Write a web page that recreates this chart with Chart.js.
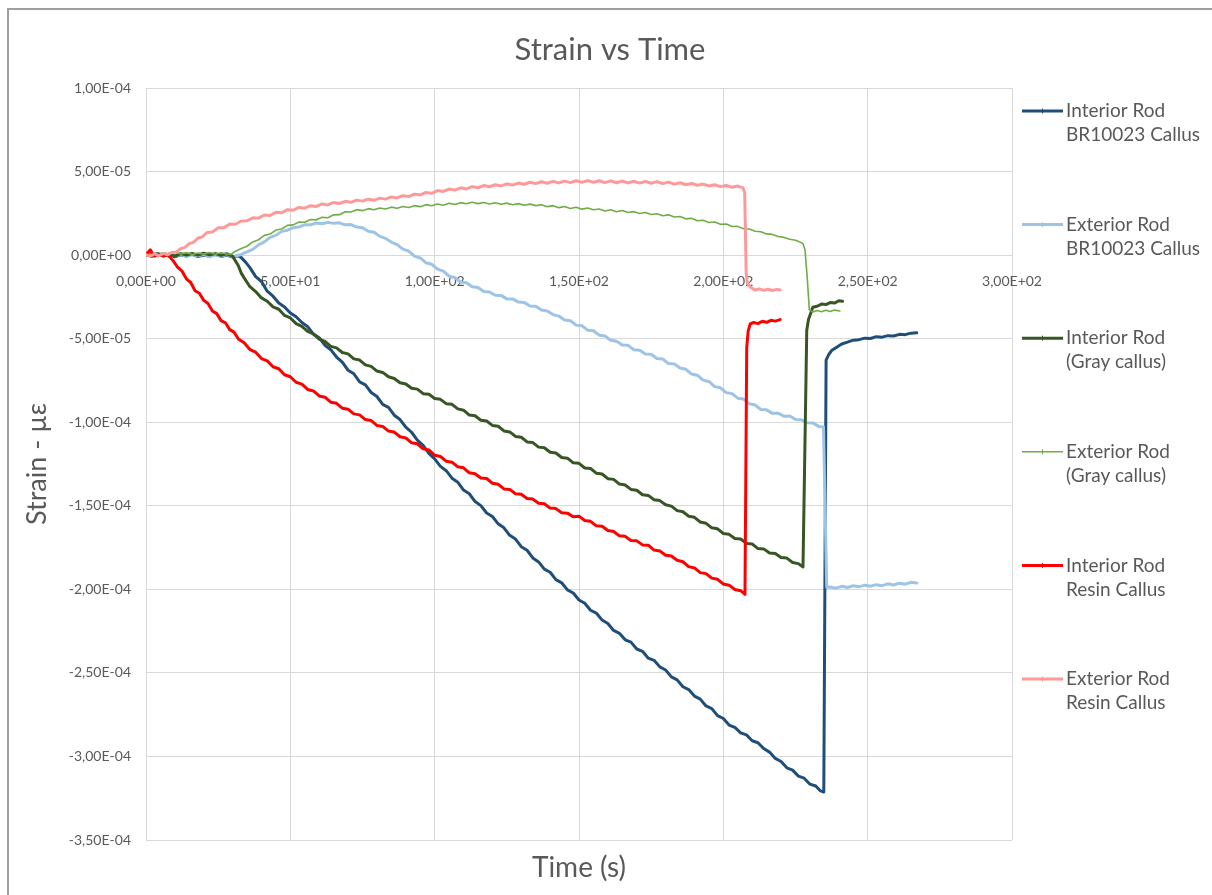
<!DOCTYPE html>
<html>
<head>
<meta charset="utf-8">
<title>Strain vs Time</title>
<script src="https://cdn.jsdelivr.net/npm/chart.js@4.4.1/dist/chart.umd.min.js"></script>
<style>
  html, body { margin: 0; padding: 0; background: #ffffff; }
  #wrap { position: relative; width: 1212px; height: 895px; }
</style>
</head>
<body>
<div id="wrap"><canvas id="chart" width="1212" height="895"></canvas></div>
<script>
// Series names (two legend lines each)
const seriesLegend = [
  ['Interior Rod', 'BR10023 Callus'],
  ['Exterior Rod', 'BR10023 Callus'],
  ['Interior Rod', '(Gray callus)'],
  ['Exterior Rod', '(Gray callus)'],
  ['Interior Rod', 'Resin Callus'],
  ['Exterior Rod', 'Resin Callus']
];

// Axis ticks
const timeTicks = [0, 50, 100, 150, 200, 250, 300];
const strainTicks = [1e-4, 5e-5, 0, -5e-5, -1e-4, -1.5e-4, -2e-4, -2.5e-4, -3e-4, -3.5e-4];

// Measurements: [time (s), strain (microstrain)]
const interiorBR = [
  [0,0.4],[2,-0.8],[4,0.6],[6,-0.5],[8,0.3],[10,-1.0],[12,0.2],[14,-0.6],[16,0.5],[18,-0.9],[20,0.1],[22,-0.7],[24,0.4],[26,-0.8],[28,0.0],[30,-1.1],[32,-0.4],[33,-1.5],
  [34.5,-4.2],[36,-7.5],[38,-12.9],[40,-15.8],[42,-21.6],[44,-24.6],[46,-28.7],[48,-31.0],[50,-34.6],[52,-36.9],[54,-40.3],[56,-42.8],[58,-47.3],[60,-49.4],[62,-54.0],[64,-56.6],[66,-61.0],[68,-64.1],[70,-68.9],[72,-71.0],[74,-75.9],[76,-77.6],[78,-82.2],[80,-84.6],[82,-89.3],[84,-91.1],[86,-95.8],[88,-98.4],[90,-102.9],[92,-106.0],[94,-110.7],[96,-113.8],[98,-118.6],[100,-121.9],[102,-126.4],[104,-129.0],[106,-133.5],[108,-135.9],[110,-140.6],[112,-142.8],[114,-147.5],[116,-149.9],[118,-154.3],[120,-156.4],[122,-160.8],[124,-163.2],[126,-167.7],[128,-169.9],[130,-174.5],[132,-176.6],[134,-181.2],[136,-183.6],[138,-187.9],[140,-189.8],[142,-194.2],[144,-196.1],[146,-200.3],[148,-202.2],[150,-206.4],[152,-208.3],[154,-212.5],[156,-214.2],[158,-218.4],[160,-220.5],[162,-224.6],[164,-226.3],[166,-230.2],[168,-231.6],[170,-235.7],[172,-237.1],[174,-241.2],[176,-242.5],[178,-246.4],[180,-248.3],[182,-252.4],[184,-254.2],[186,-258.3],[188,-260.0],[190,-263.9],[192,-265.7],[194,-269.8],[196,-271.4],[198,-275.6],[200,-277.3],[202,-281.2],[204,-282.6],[206,-285.9],[208,-287.1],[210,-290.6],[212,-291.8],[214,-295.3],[216,-297.4],[218,-301.2],[220,-303.0],[222,-306.8],[224,-308.2],[226,-311.8],[228,-313.0],[230,-316.6],[232,-317.7],[233.5,-320.4],[234.8,-321.3],
  [235.6,-62.8],[236.5,-59.6],[237.5,-57.1],[239,-55.4],[241,-53.2],[243,-52.1],[245,-50.9],[247,-50.6],[249,-49.7],[251,-49.9],[253,-48.8],[255,-49.1],[257,-48.2],[259,-48.4],[261,-47.4],[263,-47.6],[265,-46.7],[267,-46.5]
];

const exteriorBR = [
  [0,1.2],[2,0.3],[4,1.0],[6,-0.2],[8,0.7],[10,-0.5],[12,0.4],[14,-0.8],[16,0.3],[18,-0.6],[20,0.5],[22,-0.9],[24,0.2],[26,-0.7],[28,0.3],[30,-0.8],[31,-0.5],
  [33,0.4],[35,1.9],[37,3.4],[39,6.1],[41,7.9],[43,10.6],[45,11.8],[47,14.2],[49,14.9],[51,16.4],[53,16.8],[55,18.2],[57,18.1],[59,19.2],[61,18.8],[63,19.6],[65,19.0],[67,19.3],[69,18.1],[71,18.3],[73,16.8],[75,16.4],[77,14.3],[79,13.7],[81,11.2],[83,10.0],[85,7.8],[87,6.3],[89,3.6],[91,2.4],[93,-0.6],[95,-1.7],[97,-4.6],[99,-5.5],[101,-8.4],[103,-9.6],[105,-12.6],[107,-13.5],[109,-16.1],[111,-16.5],[113,-18.9],[115,-19.4],[117,-21.8],[119,-22.1],[121,-24.0],[123,-24.1],[125,-26.2],[127,-26.2],[129,-28.1],[131,-28.3],[133,-30.4],[135,-30.6],[137,-32.9],[139,-33.4],[141,-35.6],[143,-36.5],[145,-38.8],[147,-39.3],[149,-41.9],[151,-42.3],[153,-44.9],[155,-45.3],[157,-47.9],[159,-48.4],[161,-51.0],[163,-51.5],[165,-53.8],[167,-54.0],[169,-56.6],[171,-56.9],[173,-59.2],[175,-59.3],[177,-61.9],[179,-62.2],[181,-64.9],[183,-65.1],[185,-67.6],[187,-68.3],[189,-71.2],[191,-71.9],[193,-74.8],[195,-75.6],[197,-78.7],[199,-79.4],[201,-82.3],[203,-82.9],[205,-85.6],[207,-86.1],[209,-89.0],[211,-89.7],[213,-92.4],[215,-92.6],[217,-94.7],[219,-94.6],[221,-96.4],[223,-96.3],[225,-98.3],[227,-98.5],[229,-100.3],[231,-100.4],[233,-102.5],[234.7,-102.9],
  [235.8,-198.8],[237,-198.6],[239,-199.3],[241,-198.2],[243,-198.9],[245,-197.8],[247,-198.5],[249,-197.5],[251,-198.1],[253,-197.2],[255,-197.8],[257,-196.7],[259,-197.4],[261,-196.3],[263,-196.9],[265,-195.8],[267,-196.2]
];

const interiorGray = [
  [0,0.3],[2,-0.5],[4,0.8],[6,-0.2],[8,0.6],[10,-0.6],[12,0.9],[14,0.1],[16,1.0],[18,0.0],[20,1.1],[22,0.2],[24,0.9],[26,-0.1],[28,0.8],[30,-0.6],
  [31,-3.5],[32,-6.4],[33,-10.8],[34,-13.6],[36,-18.9],[38,-21.8],[40,-25.6],[42,-27.6],[44,-31.0],[46,-32.4],[48,-36.1],[50,-37.6],[52,-41.0],[54,-42.6],[56,-45.7],[58,-47.1],[60,-50.3],[62,-51.7],[64,-54.6],[66,-55.5],[68,-58.3],[70,-59.1],[72,-62.1],[74,-62.8],[76,-65.7],[78,-66.6],[80,-69.4],[82,-70.2],[84,-72.8],[86,-73.8],[88,-76.4],[90,-77.1],[92,-79.7],[94,-80.2],[96,-82.9],[98,-83.3],[100,-85.8],[102,-86.3],[104,-88.9],[106,-89.3],[108,-92.0],[110,-92.8],[112,-95.7],[114,-96.1],[116,-98.8],[118,-99.3],[120,-101.9],[122,-102.4],[124,-105.2],[126,-105.8],[128,-108.5],[130,-109.0],[132,-111.8],[134,-112.2],[136,-114.9],[138,-115.3],[140,-118.0],[142,-118.4],[144,-121.1],[146,-121.5],[148,-124.3],[150,-124.6],[152,-127.4],[154,-127.7],[156,-130.5],[158,-131.0],[160,-133.8],[162,-134.2],[164,-137.0],[166,-137.6],[168,-140.2],[170,-140.7],[172,-143.4],[174,-143.8],[176,-146.4],[178,-146.9],[180,-149.4],[182,-150.2],[184,-152.9],[186,-153.6],[188,-156.3],[190,-156.9],[192,-159.7],[194,-160.5],[196,-163.2],[198,-163.8],[200,-166.6],[202,-167.1],[204,-169.6],[206,-169.9],[208,-172.5],[210,-172.9],[212,-175.6],[214,-175.8],[216,-178.3],[218,-178.6],[220,-181.0],[222,-181.3],[224,-183.9],[226,-184.6],[227.6,-186.6],
  [228.9,-45.0],[229.5,-38.5],[231,-31.2],[232.5,-30.6],[234,-29.3],[235.5,-29.6],[237,-28.4],[238.5,-28.7],[240,-27.3],[241.3,-27.6]
];

const exteriorGray = [
  [0,0.8],[2,1.6],[4,0.5],[6,1.4],[8,0.6],[10,1.7],[12,0.7],[14,1.5],[16,0.4],[18,1.3],[20,0.6],[22,1.6],[24,0.5],[26,1.4],[28,0.7],[29.4,0.4],
  [31,2.3],[33,4.0],[35,5.3],[37,7.9],[39,9.2],[41,11.8],[43,12.6],[45,15.0],[47,15.6],[49,17.8],[51,18.1],[53,19.8],[55,19.7],[57,21.3],[59,21.1],[61,22.6],[63,22.4],[65,24.1],[67,24.2],[69,25.9],[71,25.8],[73,27.2],[75,26.6],[77,27.8],[79,27.1],[81,28.2],[83,27.6],[85,28.7],[87,28.0],[89,29.1],[91,28.5],[93,29.6],[95,29.0],[97,30.2],[99,29.5],[101,30.6],[103,29.8],[105,31.0],[107,30.3],[109,31.4],[111,30.7],[113,31.6],[115,30.8],[117,31.5],[119,30.6],[121,31.3],[123,30.4],[125,31.1],[127,30.1],[129,30.8],[131,29.8],[133,30.5],[135,29.6],[137,30.1],[139,29.0],[141,29.6],[143,28.4],[145,29.1],[147,27.9],[149,28.6],[151,27.5],[153,28.2],[155,27.1],[157,27.6],[159,26.4],[161,27.1],[163,26.0],[165,26.7],[167,25.5],[169,26.0],[171,24.9],[173,25.5],[175,24.3],[177,24.8],[179,23.6],[181,24.1],[183,22.8],[185,23.1],[187,21.7],[189,22.0],[191,20.6],[193,20.9],[195,19.5],[197,19.8],[199,18.4],[201,18.6],[203,17.1],[205,17.2],[207,15.8],[209,15.6],[211,14.3],[213,14.0],[215,12.7],[217,12.4],[219,11.1],[221,10.6],[223,9.5],[225,8.9],[226.5,7.9],[227.6,6.8],
  [228.3,3.0],[229.0,-12.0],[229.8,-32.8],[231,-34.1],[232.5,-33.2],[234,-33.9],[235.5,-33.0],[237,-33.7],[238.5,-32.9],[240.4,-33.4]
];

const interiorResin = [
  [0,0.3],[0.8,1.8],[1.5,3.2],[2.2,1.0],[3,-0.6],[4.5,0.4],[6,-0.5],[7.2,0.2],[8.3,-1.2],
  [9.5,-3.6],[11,-7.4],[12.5,-9.6],[14,-14.2],[15.5,-16.4],[17,-21.3],[18.5,-22.8],[20,-27.1],[21.5,-29.0],[23,-33.4],[24.5,-35.0],[26,-39.2],[27.5,-40.5],[29,-44.6],[30.5,-46.1],[32,-50.2],[34,-52.4],[36,-56.5],[38,-58.1],[40,-61.9],[42,-63.3],[44,-66.8],[46,-68.0],[48,-71.6],[50,-72.8],[52,-76.1],[54,-77.2],[56,-80.4],[58,-81.3],[60,-84.3],[62,-85.0],[64,-88.0],[66,-88.7],[68,-91.6],[70,-92.2],[72,-95.0],[74,-95.6],[76,-98.4],[78,-99.0],[80,-101.9],[82,-102.5],[84,-105.3],[86,-105.9],[88,-108.7],[90,-109.4],[92,-112.3],[94,-112.9],[96,-115.9],[98,-116.6],[100,-119.8],[102,-120.5],[104,-123.3],[106,-123.9],[108,-126.7],[110,-127.3],[112,-130.3],[114,-130.8],[116,-133.4],[118,-133.7],[120,-136.5],[122,-137.1],[124,-139.9],[126,-140.2],[128,-142.8],[130,-143.1],[132,-145.6],[134,-146.0],[136,-148.5],[138,-148.8],[140,-151.4],[142,-151.7],[144,-154.2],[146,-154.4],[148,-156.6],[150,-156.2],[152,-158.8],[154,-159.3],[156,-162.0],[158,-162.3],[160,-164.8],[162,-165.4],[164,-168.0],[166,-168.3],[168,-170.8],[170,-171.0],[172,-173.4],[174,-173.6],[176,-176.5],[178,-177.0],[180,-179.6],[182,-180.1],[184,-182.6],[186,-183.5],[188,-186.4],[190,-187.2],[192,-190.0],[194,-190.6],[196,-193.3],[198,-194.0],[200,-196.8],[202,-197.5],[204,-200.1],[206,-200.8],[207.5,-203.0],
  [208.1,-55.5],[208.6,-45.5],[209.3,-41.2],[210.5,-40.3],[212,-41.0],[213.5,-39.6],[215,-40.2],[216.5,-39.0],[218,-39.5],[219.7,-38.6]
];

const exteriorResin = [
  [0,0.3],[1.5,-0.6],[3,0.8],[4.5,-0.4],[6,1.0],[7.5,0.2],[9,1.6],[10.5,1.9],[12,3.9],[13.5,4.6],[15,6.9],[16.5,7.7],[18,10.2],[19.5,10.9],[21,13.4],[23,13.8],[25,16.3],[27,16.4],[29,18.6],[31,18.5],[33,20.4],[35,20.5],[37,22.3],[39,22.1],[41,24.0],[43,23.7],[45,25.6],[47,25.3],[49,27.2],[51,26.9],[53,28.5],[55,28.1],[57,29.6],[59,29.1],[61,30.6],[63,30.0],[65,31.5],[67,30.9],[69,32.2],[71,31.6],[73,32.9],[75,32.3],[77,33.5],[79,32.8],[81,34.1],[83,33.5],[85,34.8],[87,34.2],[89,35.6],[91,35.0],[93,36.5],[95,36.0],[97,37.5],[99,37.0],[101,38.6],[103,38.1],[105,39.5],[107,38.9],[109,40.3],[111,39.6],[113,41.0],[115,40.3],[117,41.6],[119,40.9],[121,42.1],[123,41.4],[125,42.6],[127,41.9],[129,43.1],[131,42.4],[133,43.6],[135,42.8],[137,43.9],[139,43.0],[141,44.1],[143,43.2],[145,44.3],[147,43.4],[149,44.5],[151,43.5],[153,44.6],[155,43.6],[157,44.5],[159,43.4],[161,44.4],[163,43.3],[165,44.3],[167,43.2],[169,44.2],[171,43.1],[173,44.1],[175,43.0],[177,44.0],[179,42.8],[181,43.7],[183,42.5],[185,43.3],[187,42.1],[189,42.9],[191,41.8],[193,42.5],[195,41.4],[197,42.1],[199,41.0],[201,41.7],[203,40.6],[205,41.3],[206.8,40.2],
  [207.4,37.5],[207.9,-10.0],[208.3,-16.8],[209.5,-19.4],[211,-20.9],[212.5,-20.2],[214,-21.1],[215.5,-20.4],[217,-21.2],[218.5,-20.5],[219.7,-20.9]
];

const seriesData = [interiorBR, exteriorBR, interiorGray, exteriorGray, interiorResin, exteriorResin];
const seriesColors = ['#1F4E79', '#9DC3E6', '#375623', '#70AD47', '#FF0000', '#FF9999'];
const seriesWidths = [3, 3, 3, 1.6, 3, 3];

const MICRO = 1e-6;
const TEXT = '#595959';
const FONT = 'Lato, "Open Sans", sans-serif';

// Excel-like scientific format with comma decimal: 1,00E-04
function sci(v) {
  if (Math.abs(v) < 1e-15) v = 0;
  const parts = v.toExponential(2).split('e');
  const sign = parts[1][0] === '-' ? '-' : '+';
  let digits = parts[1].replace(/[+-]/, '');
  if (digits.length < 2) digits = '0' + digits;
  return parts[0].replace('.', ',') + 'E' + sign + digits;
}

const datasets = seriesData.map((rows, i) => ({
  label: seriesLegend[i].join(' '),
  data: rows.map(r => ({ x: r[0], y: r[1] * MICRO })),
  borderColor: seriesColors[i],
  backgroundColor: seriesColors[i],
  borderWidth: seriesWidths[i],
  showLine: true,
  pointRadius: 0,
  pointHoverRadius: 0,
  tension: 0,
  borderJoinStyle: 'round',
  borderCapStyle: 'round',
  order: seriesData.length - i
}));

// Background and outer frame
const framePlugin = {
  id: 'frame',
  beforeDraw(chart) {
    const ctx = chart.ctx;
    ctx.save();
    ctx.fillStyle = '#ffffff';
    ctx.fillRect(0, 0, chart.width, chart.height);
    ctx.strokeStyle = '#a0a0a0';
    ctx.lineWidth = 2;
    ctx.beginPath();
    ctx.moveTo(8, chart.height + 2);
    ctx.lineTo(8, 9);
    ctx.lineTo(chart.width + 2, 9);
    ctx.stroke();
    ctx.restore();
  }
};

// Chart title, axis titles and the side legend
const textPlugin = {
  id: 'texts',
  afterDraw(chart) {
    const ctx = chart.ctx;
    const area = chart.chartArea;
    ctx.save();
    ctx.fillStyle = TEXT;
    ctx.textAlign = 'center';
    ctx.textBaseline = 'middle';

    ctx.font = '31px ' + FONT;
    ctx.fillText('Strain vs Time', 610, 50);

    ctx.font = '28px ' + FONT;
    ctx.fillText('Time (s)', (area.left + area.right) / 2, 868);

    ctx.save();
    ctx.translate(37, (area.top + area.bottom) / 2);
    ctx.rotate(-Math.PI / 2);
    ctx.font = '27px ' + FONT;
    ctx.fillText('Strain - µε', 0, 0);
    ctx.restore();

    ctx.textAlign = 'left';
    ctx.font = '19px ' + FONT;
    chart.data.datasets.forEach((ds, i) => {
      const y = 111 + i * 113.6;
      ctx.strokeStyle = ds.borderColor;
      ctx.lineWidth = ds.borderWidth;
      ctx.beginPath();
      ctx.moveTo(1022, y);
      ctx.lineTo(1063, y);
      ctx.stroke();
      ctx.lineWidth = 1;
      ctx.beginPath();
      ctx.moveTo(1042.5, y - 2.5);
      ctx.lineTo(1042.5, y + 2.5);
      ctx.stroke();
      ctx.fillStyle = TEXT;
      seriesLegend[i].forEach((line, k) => ctx.fillText(line, 1066, y + k * 24));
    });
    ctx.restore();
  }
};

new Chart(document.getElementById('chart'), {
  type: 'scatter',
  data: { datasets },
  options: {
    responsive: false,
    animation: false,
    events: [],
    layout: { padding: { left: 0, right: 200, top: 88, bottom: 55 } },
    plugins: {
      legend: { display: false },
      title: { display: false },
      tooltip: { enabled: false }
    },
    scales: {
      x: {
        type: 'linear',
        position: { y: 0 },
        min: 0,
        max: 300,
        afterBuildTicks(scale) { scale.ticks = timeTicks.map(v => ({ value: v })); },
        grid: { color: '#d9d9d9', lineWidth: 1, drawTicks: false },
        border: { display: false },
        ticks: {
          color: TEXT,
          font: { family: FONT, size: 14 },
          padding: 18,
          maxRotation: 0,
          callback: v => sci(v)
        }
      },
      y: {
        type: 'linear',
        position: 'left',
        min: -3.5e-4,
        max: 1e-4,
        afterBuildTicks(scale) { scale.ticks = strainTicks.map(v => ({ value: v })); },
        afterFit(scale) { scale.width = 146; },
        grid: { color: '#d9d9d9', lineWidth: 1, drawTicks: false },
        border: { display: false },
        ticks: {
          color: TEXT,
          font: { family: FONT, size: 14 },
          padding: 15,
          callback: v => sci(v)
        }
      }
    }
  },
  plugins: [framePlugin, textPlugin]
});
</script>
</body>
</html>
